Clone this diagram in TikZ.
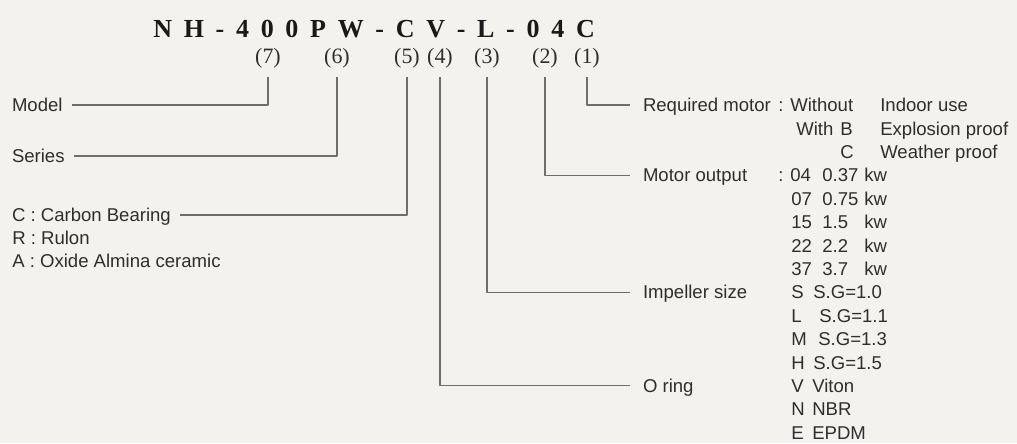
\documentclass[tikz,border=0pt]{standalone}
\usepackage{fontspec}
\setmainfont{Liberation Serif}
\setsansfont{Liberation Sans}
\newfontfamily\codefont[WordSpace=1.8]{Liberation Serif}
\usepackage{xcolor}
\usetikzlibrary{calc}
\definecolor{paper}{HTML}{F3F2EF}
\definecolor{ink}{HTML}{2E2E2E}
\definecolor{leader}{HTML}{6E6E6E}

\begin{document}
\begin{tikzpicture}[line join=round,
  lead/.style={draw=leader,line width=0.8pt},
  tag/.style={font=\fontsize{15.6}{18}\selectfont,text=ink,inner sep=0pt,outer ysep=0.23cm},
  desc/.style={font=\sffamily\fontsize{13.2}{16}\selectfont,text=ink,inner sep=0pt,
    text height=0.335cm,text depth=0pt,anchor=west},
  descl/.style={desc,outer xsep=0.24cm},
  descr/.style={desc,outer xsep=0.325cm}]
  \useasboundingbox (0,0) rectangle (25.425,11.075);
  \fill[paper] (0,0) rectangle (25.425,11.075);
  % model code
  \node[font=\codefont\bfseries\fontsize{18.5}{22}\selectfont,text=black!90,inner sep=0pt,anchor=base west]
    (code) at (3.825,10.125) {N H - 4 0 0 P W - C V - L - 0 4 C};
  \node[tag] (l7) at (6.700,9.625) {(7)};
  \node[tag] (l6) at (8.425,9.625) {(6)};
  \node[tag] (l5) at (10.175,9.625) {(5)};
  \node[tag] (l4) at (11.000,9.625) {(4)};
  \node[tag] (l3) at (12.175,9.625) {(3)};
  \node[tag] (l2) at (13.625,9.625) {(2)};
  \node[tag] (l1) at (14.675,9.625) {(1)};
  % left side
  \node[descl] (model) at (0.060,8.450) {Model};
  \node[descl] (series) at (0.060,7.175) {Series};
  \node[descl] (carbon) at (0.060,5.700) {C : Carbon Bearing};
  \node[desc] (rulon) at (0.300,5.125) {R : Rulon};
  \node[desc] (oxide) at (0.300,4.550) {A : Oxide Almina ceramic};
  % right side
  \node[descr] (reqmotor) at (15.750,8.450) {Required motor};
  \node[desc] (without) at (19.450,8.450) {: Without};
  \node[desc] (indoor) at (22.000,8.450) {Indoor use};
  \node[desc] (with) at (19.900,7.865) {With};
  \node[desc] (mb) at (21.000,7.865) {B};
  \node[desc] (explo) at (22.000,7.865) {Explosion proof};
  \node[desc] (mc) at (21.000,7.280) {C};
  \node[desc] (weather) at (22.000,7.280) {Weather proof};
  \node[descr] (motorout) at (15.750,6.695) {Motor output};
  \node[desc] (o04) at (19.450,6.695) {: 04};
  \node[desc] (v04) at (20.550,6.695) {0.37};
  \node[desc] (k04) at (21.600,6.695) {kw};
  \node[desc] (o07) at (19.775,6.110) {07};
  \node[desc] (v07) at (20.550,6.110) {0.75};
  \node[desc] (k07) at (21.600,6.110) {kw};
  \node[desc] (o15) at (19.775,5.525) {15};
  \node[desc] (v15) at (20.550,5.525) {1.5};
  \node[desc] (k15) at (21.600,5.525) {kw};
  \node[desc] (o22) at (19.775,4.940) {22};
  \node[desc] (v22) at (20.550,4.940) {2.2};
  \node[desc] (k22) at (21.600,4.940) {kw};
  \node[desc] (o37) at (19.775,4.355) {37};
  \node[desc] (v37) at (20.550,4.355) {3.7};
  \node[desc] (k37) at (21.600,4.355) {kw};
  \node[descr] (impeller) at (15.750,3.770) {Impeller size};
  \node[desc] (is) at (19.775,3.770) {S};
  \node[desc] (gs) at (20.325,3.770) {S.G=1.0};
  \node[desc] (il) at (19.775,3.185) {L};
  \node[desc] (gl) at (20.475,3.185) {S.G=1.1};
  \node[desc] (im) at (19.775,2.600) {M};
  \node[desc] (gm) at (20.450,2.600) {S.G=1.3};
  \node[desc] (ih) at (19.775,2.015) {H};
  \node[desc] (gh) at (20.325,2.015) {S.G=1.5};
  \node[descr] (oring) at (15.750,1.430) {O ring};
  \node[desc] (rv) at (19.775,1.430) {V};
  \node[desc] (viton) at (20.300,1.430) {Viton};
  \node[desc] (rn) at (19.775,0.845) {N};
  \node[desc] (nbr) at (20.300,0.845) {NBR};
  \node[desc] (re) at (19.775,0.260) {E};
  \node[desc] (epdm) at (20.300,0.260) {EPDM};
  % leaders
  \draw[lead] (l7) |- (model);
  \draw[lead] (l6) |- (series);
  \draw[lead] (l5) |- (carbon);
  \draw[lead] (l4) |- (oring);
  \draw[lead] (l3) |- (impeller);
  \draw[lead] (l2) |- (motorout);
  \draw[lead] (l1) |- (reqmotor);
\end{tikzpicture}
\end{document}
